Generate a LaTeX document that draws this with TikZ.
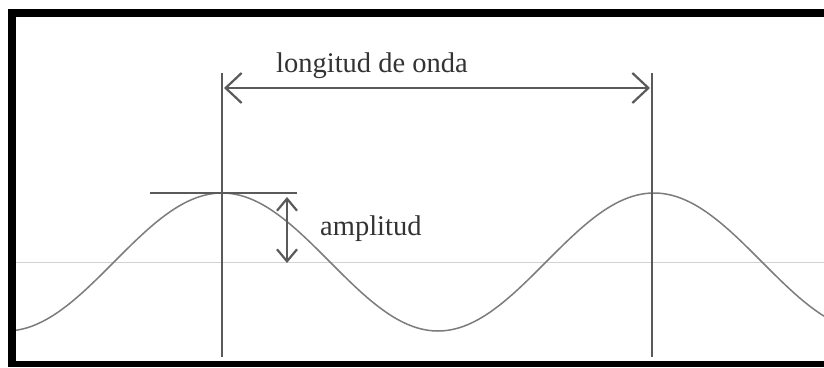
\documentclass[tikz,border=0pt]{standalone}
\usepackage{fontspec}
\setmainfont{Liberation Serif}
\usetikzlibrary{arrows.meta, positioning}

\definecolor{inkgray}{HTML}{5A5A5A}
\definecolor{wavegray}{HTML}{7C7C7C}
\definecolor{axisgray}{HTML}{D2D2D2}
\definecolor{textgray}{HTML}{333333}

\begin{document}
\begin{tikzpicture}[
    x=1pt, y=-1pt,
    wave/.style={wavegray, line width=1.5pt},
    axisline/.style={axisgray, line width=1pt},
    guide/.style={inkgray, line width=2.2pt},
    dimarrow/.style={{Straight Barb[length=16pt,width=30pt]}-{Straight Barb[length=16pt,width=30pt]}, inkgray, line width=2.2pt},
    amparrow/.style={{Straight Barb[length=12pt,width=20pt]}-{Straight Barb[length=12pt,width=20pt]}, inkgray, line width=2.2pt},
    lbl/.style={inner sep=0pt, text=textgray, font=\fontsize{28.5}{30}\selectfont}
]
\useasboundingbox (0,0) rectangle (824,367);
% frame
\fill[black] (8,9) rectangle (824,367);
\fill[white] (16,17) rectangle (824,361);

% axis and wave
\coordinate (axisL) at (16,262);
\coordinate (axisR) at (824,262);
\draw[axisline] (axisL) -- (axisR);
\draw[wave] plot[domain=16:824, samples=160, smooth] (\x, {262-69*cos((\x-222)*0.833333)});

% crest markers
\coordinate (crestA) at (222,193);
\coordinate (crestB) at (652,193);
\coordinate (topA) at (222,73);
\coordinate (botA) at (222,357);
\coordinate (topB) at (652,73);
\coordinate (botB) at (652,357);
\draw[guide] (topA) -- (botA);
\draw[guide] (topB) -- (botB);

% wavelength
\coordinate (lenA) at (224,88);
\coordinate (lenB) at (650,88);
\draw[dimarrow] (lenA) -- (lenB);
\node[lbl, anchor=base] (lenlbl) at (372,72) {longitud de onda};

% amplitude
\coordinate (tanL) at (150,193);
\coordinate (tanR) at (297,193);
\draw[guide, line width=1.8pt] (tanL) -- (tanR);
\coordinate (ampTop) at (287,197);
\coordinate (ampBot) at (287,263);
\draw[amparrow] (ampTop) -- (ampBot);
\node[lbl, anchor=base west] (amplbl) at (320,235) {amplitud};
\end{tikzpicture}
\end{document}
